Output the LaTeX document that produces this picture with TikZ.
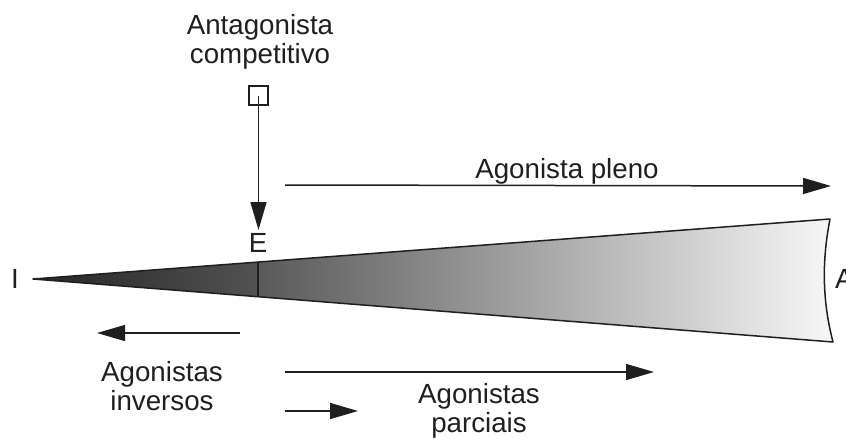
\documentclass[tikz,border=0pt]{standalone}
\usepackage{fontspec}
\setmainfont{Liberation Sans}
\usetikzlibrary{arrows.meta}
\begin{document}
\begin{tikzpicture}[x=1pt,y=-1pt,
  lbl/.style={font=\fontsize{27.7}{29}\selectfont, text=black!88, inner sep=0pt, align=center},
  arr/.style={line width=1.5pt, draw=black!88, -{Triangle[length=28pt,width=16pt]}},
  edge/.style={line width=1.5pt, draw=black!88}]
\useasboundingbox (0,0) rectangle (846,437);
% wedge coordinates
\coordinate (tip) at (33,279);
\coordinate (tr) at (830,219);
\coordinate (br) at (833,342);
\coordinate (et) at (258,262);
\coordinate (eb) at (258,296.5);
% shaded parts
\shade[left color=black!85, right color=black!68] (tip) -- (et) -- (eb) -- cycle;
\shade[left color=black!65, right color=black!3] (et) -- (tr) .. controls (822,260) and (822,300) .. (br) -- (eb) -- cycle;
\draw[edge, line join=round] (tip) -- (tr) .. controls (822,260) and (822,300) .. (br) -- cycle;
\draw[edge] (et) -- (eb);
% labels
\node[lbl, anchor=base] (ant) at (260,63) {Antagonista\\competitivo};
\node[draw=black!88, line width=1.2pt, minimum size=19pt, inner sep=0pt] (sq) at (258.5,95.5) {};
\node[lbl] (E) at (258,243) {E};
\node[lbl] (I) at (15,279) {I};
\node[lbl, anchor=west] (A) at (835,279) {A};
\node[lbl, anchor=base] (pleno) at (567,178) {Agonista pleno};
\node[lbl, anchor=base] (inv) at (162,410) {Agonistas\\inversos};
\node[lbl, anchor=base] (parc) at (479,432) {Agonistas\\parciais};
% arrow coordinates
\coordinate (p1) at (285,185);
\coordinate (p2) at (831,186);
\coordinate (i1) at (240,333);
\coordinate (i2) at (97,333);
\coordinate (c1) at (285,372);
\coordinate (c2) at (654,372);
\coordinate (s1) at (285,411);
\coordinate (s2) at (358,411);
\coordinate (dn) at (258.5,230);
% arrows
\draw[arr] (sq.center) -- (dn);
\draw[arr] (p1) -- (p2);
\draw[arr] (i1) -- (i2);
\draw[arr] (c1) -- (c2);
\draw[arr] (s1) -- (s2);
\end{tikzpicture}
\end{document}
